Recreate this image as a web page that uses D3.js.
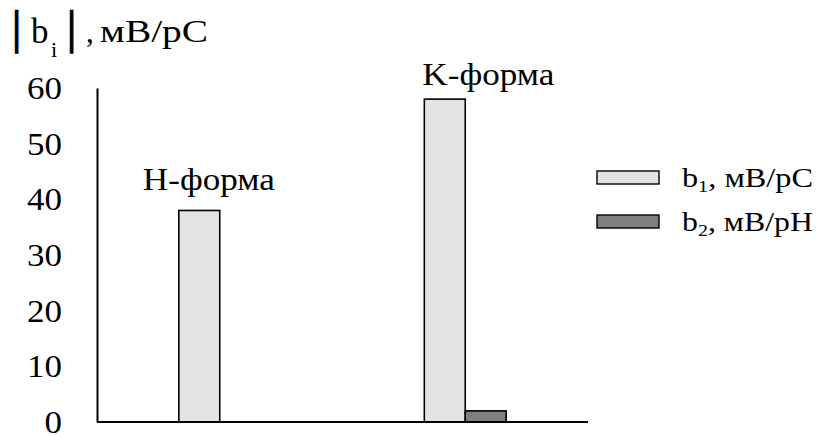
<!DOCTYPE html>
<html>
<head>
<meta charset="utf-8">
<script src="https://cdn.jsdelivr.net/npm/d3@7"></script>
<style>
  html, body { margin: 0; padding: 0; background: #fff; }
  svg { display: block; }
  svg text { font-family: "Liberation Serif", "Times New Roman", "DejaVu Serif", serif; }
</style>
</head>
<body>
<svg id="chart" width="819" height="435"></svg>
<script>
// Categories (crystal forms) and the two coefficient series
const categories = ["H-форма", "K-форма"];
const seriesNames = ["b1", "b2"];
const b1Values = [38, 58];   // мВ/pC
const b2Values = [0, 2];     // мВ/pH
const yTicks = [0, 10, 20, 30, 40, 50, 60];

const SERIF = '"Liberation Serif", "Times New Roman", serif';
const svg = d3.select("#chart");
const margin = { left: 97, right: 231, top: 88, bottom: 13 };
const W = 819, H = 435;

const x = d3.scaleBand().domain(categories).range([margin.left, W - margin.right]);
const xs = d3.scaleBand().domain(seriesNames).range([0, x.bandwidth()])
  .paddingInner(0).paddingOuter(2);
const y = d3.scaleLinear().domain([0, 60]).range([H - margin.bottom, margin.top]);

const fills = { b1: "#e3e3e3", b2: "#7f7f7f" };

// Y axis: line and labels, no tick marks
const yAxis = svg.append("g")
  .attr("transform", `translate(${margin.left},0)`)
  .call(d3.axisLeft(y).tickValues(yTicks).tickSize(0).tickSizeOuter(0).tickPadding(35));
yAxis.attr("font-family", null);
yAxis.select(".domain").attr("stroke", "#000").attr("stroke-width", 2);
yAxis.selectAll("text")
  .style("font-family", SERIF)
  .style("font-size", "32px")
  .attr("fill", "#000")
  .attr("textLength", 35)
  .attr("lengthAdjust", "spacingAndGlyphs")
  .attr("dy", "0.33em");
// the single-digit zero keeps its natural width
yAxis.selectAll(".tick text").filter(d => d === 0).attr("textLength", 17.5);

// Bars
const rows = categories.map((c, i) => ({ cat: c, b1: b1Values[i], b2: b2Values[i] }));
const groups = svg.append("g").selectAll("g").data(rows).join("g")
  .attr("transform", d => `translate(${x(d.cat)},0)`);
groups.selectAll("rect")
  .data(d => seriesNames.map(s => ({ s, v: d[s] })).filter(e => e.v > 0))
  .join("rect")
  .attr("x", e => xs(e.s))
  .attr("width", xs.bandwidth())
  .attr("y", e => y(e.v))
  .attr("height", e => y(0) - y(e.v))
  .attr("fill", e => fills[e.s])
  .attr("stroke", "#000")
  .attr("stroke-width", 1.6);

// X axis line
svg.append("line")
  .attr("x1", margin.left).attr("x2", W - margin.right)
  .attr("y1", y(0)).attr("y2", y(0))
  .attr("stroke", "#000").attr("stroke-width", 2);

// Category labels above the tall bars
const labelPlace = { "H-форма": { dx: -36, dy: -20 }, "K-форма": { dx: -2, dy: -14 } };
svg.append("g").selectAll("text").data(rows).join("text")
  .attr("x", d => x(d.cat) + xs("b1") + labelPlace[d.cat].dx)
  .attr("y", d => y(d.b1) + labelPlace[d.cat].dy)
  .attr("textLength", 132)
  .attr("lengthAdjust", "spacingAndGlyphs")
  .style("font-size", "32px")
  .attr("fill", "#000")
  .text(d => d.cat);

// Y axis title: |b_i| , мВ/pC
const title = svg.append("text").attr("fill", "#000");
title.append("tspan").attr("x", 12).attr("y", 43).style("font-size", "46px")
  .attr("stroke", "#000").attr("stroke-width", 1.3).text("|");
title.append("tspan").attr("x", 31).attr("y", 43).style("font-size", "35px").text("b");
title.append("tspan").attr("x", 51).attr("y", 57).style("font-size", "22px").text("i");
title.append("tspan").attr("x", 67).attr("y", 43).style("font-size", "46px")
  .attr("stroke", "#000").attr("stroke-width", 1.3).text("|");
title.append("tspan").attr("x", 86).attr("y", 42).style("font-size", "31px").text(",");
title.append("tspan").attr("x", 100).attr("y", 42).style("font-size", "32px")
  .attr("textLength", 108).attr("lengthAdjust", "spacingAndGlyphs").text("мВ/pC");

// Legend
const legend = [
  { s: "b1", sub: "1", unit: ", мВ/pC" },
  { s: "b2", sub: "2", unit: ", мВ/pH" }
];
const lg = svg.append("g").selectAll("g").data(legend).join("g")
  .attr("transform", (d, i) => `translate(597,${171 + i * 44})`);
lg.append("rect")
  .attr("width", 62).attr("height", 13)
  .attr("fill", d => fills[d.s])
  .attr("stroke", "#000").attr("stroke-width", 1.4);
const lt = lg.append("text").attr("x", 85).attr("y", 16)
  .attr("textLength", 131).attr("lengthAdjust", "spacingAndGlyphs")
  .style("font-size", "27px").attr("fill", "#000");
lt.append("tspan").text("b");
lt.append("tspan").style("font-size", "17px").attr("dy", 5).text(d => d.sub);
lt.append("tspan").attr("dy", -5).text(d => d.unit);
</script>
</body>
</html>
